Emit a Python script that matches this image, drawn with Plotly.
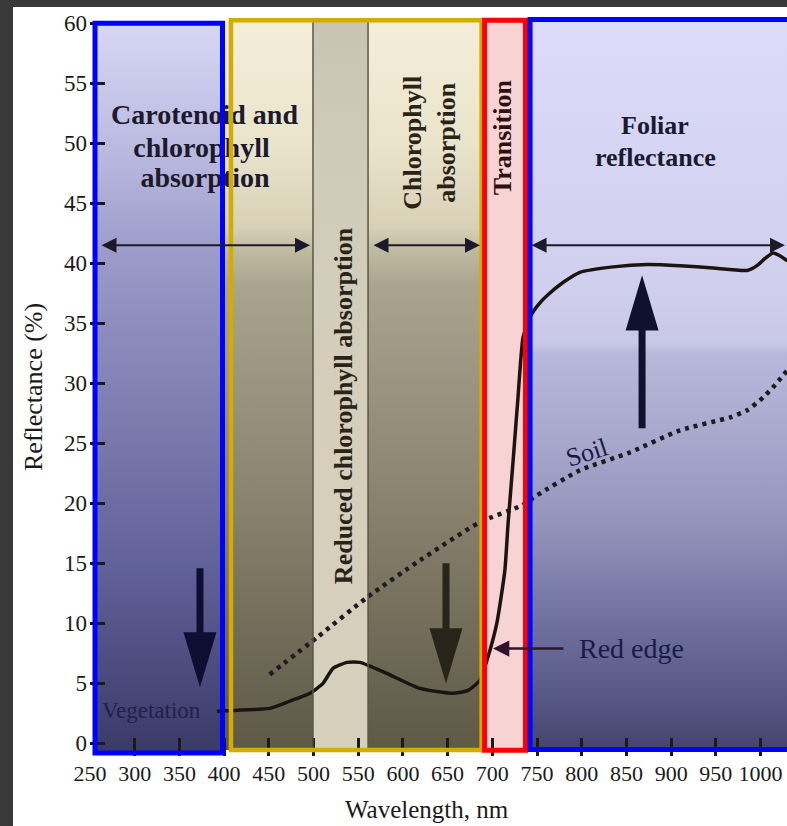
import plotly.graph_objects as go

# ---------------------------------------------------------------
# Spectral reflectance curves (wavelength in nm, reflectance in %)
# ---------------------------------------------------------------
veg_wavelength = [392, 412, 451, 470, 496, 510.6, 521.8, 537.5, 552, 582, 619, 656,
                  673, 686, 694, 705, 714, 717.6, 723, 728.7, 734.3, 742, 752, 761,
                  779, 798, 835, 873, 910, 947, 985, 996, 1005, 1014, 1022, 1030]
veg_reflectance = [2.67, 2.75, 2.92, 3.42, 4.17, 5.0, 6.25, 6.75, 6.75, 5.83, 4.58, 4.17,
                   4.42, 5.25, 6.92, 10.0, 14.4, 18.3, 23.3, 28.8, 33.8, 35.5, 36.6, 37.3,
                   38.4, 39.25, 39.7, 39.9, 39.8, 39.6, 39.4, 39.8, 40.4, 40.85, 40.6, 40.2]

soil_wavelength = [451, 504, 560, 619, 686, 733, 750, 798, 854, 910, 966, 985, 1003, 1014, 1030]
soil_reflectance = [5.75, 8.83, 12.17, 15.25, 18.42, 19.83, 20.67, 22.75, 24.25, 26.08,
                    27.17, 27.75, 28.83, 29.67, 31.08]

# Axis ticks
x_ticks = [250, 300, 350, 400, 450, 500, 550, 600, 650, 700, 750, 800, 850, 900, 950, 1000]
y_ticks = [0, 5, 10, 15, 20, 25, 30, 35, 40, 45, 50, 55, 60]

# Spectral zones: [x0, x1, y0, y1]
zone_blue_uv = [255.6, 398.2, -0.79, 60.0]
zone_visible = [407.7, 688.0, -0.54, 60.25]
zone_band = [499.4, 561.0, -0.54, 60.25]
zone_transition = [691.3, 737.1, -0.58, 60.25]
zone_nir = [742.2, 1065, -0.5, 60.3]

# Range arrows spanning each zone at the same reflectance level
span_level = 41.5
span_starts = [261.2, 565.4, 742.2]
span_ends = [496.1, 686.2, 1027.4]

# Block arrows: centre wavelength, tail and tip reflectance
block_x = [373.0, 648.2, 867.5]
block_tail = [14.6, 15.0, 26.25]
block_tip = [4.67, 5.0, 39.0]
block_colors = ["#0e0e32", "#28241a", "#10102f"]

# Red-edge pointer: from label side to the curve
red_edge_from = [781.3, 7.9]
red_edge_to = [700.8, 7.9]

SERIF = "Liberation Serif"

X_RANGE = [250, 1029.6]
Y_RANGE = [-1.05, 60.6]
PX_PER_NM = 0.894


def gradient(stops, y0, y1):
    """Turn (reflectance, colour) stops into a 0..1 colorscale."""
    return [[(r - y0) / (y1 - y0), c] for r, c in stops]


def rect_trace(zone, stops=None, color=None):
    x0, x1, y0, y1 = zone
    kw = dict(x=[x0, x1, x1, x0, x0], y=[y0, y0, y1, y1, y0], fill="toself",
              mode="lines", line=dict(width=0), hoverinfo="skip", showlegend=False)
    if stops is not None:
        kw["fillgradient"] = dict(type="vertical", colorscale=gradient(stops, y0, y1),
                                  start=y0, stop=y1)
    else:
        kw["fillcolor"] = color
    return go.Scatter(**kw)


fig = go.Figure()

# Zone backgrounds
fig.add_trace(rect_trace(
    zone_blue_uv,
    stops=[(-0.79, "#3a3a68"), (5, "#48487a"), (15, "#62629a"), (30, "#8282b4"),
           (41, "#9c9cca"), (50, "#bcbce2"), (60.0, "#d6d6f4")]))
fig.add_trace(rect_trace(
    [zone_blue_uv[1], zone_transition[0], zone_visible[2], zone_visible[3]],
    stops=[(-0.54, "#5e5846"), (10, "#736d5a"), (20, "#88826e"), (30, "#9a9480"),
           (38, "#aaa48e"), (41, "#c0b9a2"), (43, "#d8d1b8"), (50, "#ebe4cc"),
           (60.25, "#f4eed9")]))
fig.add_trace(rect_trace(
    zone_band,
    stops=[(-0.54, "#d6d0bd"), (30, "#d4cebb"), (50, "#d0cab9"), (60.25, "#c9c3b4")]))
fig.add_trace(rect_trace(zone_transition, color="#f8d3d3"))
fig.add_trace(rect_trace(
    [zone_transition[1], zone_nir[1], zone_nir[2], zone_nir[3]],
    stops=[(-0.5, "#44446e"), (5, "#5c5c8a"), (12, "#7878a6"), (18.5, "#9494bc"),
           (24.5, "#a6a6cc"), (32.5, "#b8b8dc"), (33.3, "#c8c8e6"), (38, "#d0d0ee"),
           (50, "#d6d6f4"), (60.3, "#dcdcf8")]))

# Block arrows
sw = 3.5 / PX_PER_NM
hw = 16.5 / PX_PER_NM
head_len = 4.6
for xc, yt, yp, col in zip(block_x, block_tail, block_tip, block_colors):
    d = 1 if yp > yt else -1
    yb = yp - d * head_len
    fig.add_trace(go.Scatter(
        x=[xc - sw, xc - sw, xc - hw, xc, xc + hw, xc + sw, xc + sw, xc - sw],
        y=[yt, yb, yb, yp, yb, yb, yt, yt],
        fill="toself", fillcolor=col, mode="lines", line=dict(width=0, color=col),
        hoverinfo="skip", showlegend=False))

# Soil curve (dotted) and vegetation curve
fig.add_trace(go.Scatter(
    x=soil_wavelength, y=soil_reflectance, mode="lines",
    line=dict(color="#1e1a22", width=4.5, dash="4px,5px", shape="spline", smoothing=0.6),
    hoverinfo="skip", showlegend=False))
fig.add_trace(go.Scatter(
    x=veg_wavelength, y=veg_reflectance, mode="lines",
    line=dict(color="#1c1410", width=3.5, shape="spline", smoothing=0.5),
    hoverinfo="skip", showlegend=False))

# Zone heading drawn beneath the box outlines
fig.add_trace(go.Scatter(
    x=[378.1, 374.7, 378.6], y=[52.17, 49.4, 46.9],
    text=["Carotenoid and", "chlorophyll", "absorption"],
    mode="text", textposition="middle center",
    textfont=dict(family=SERIF, size=28, color="#1c1a2c", weight="bold"),
    hoverinfo="skip", showlegend=False))

shapes = []
# Page frame: white sheet over dark surround
shapes.append(dict(type="rect", xref="paper", yref="paper", x0=-0.1105, x1=1.02,
                   y0=-0.11, y1=1.0122, fillcolor="white", line=dict(width=0),
                   layer="below"))
# Band edges
for xb in zone_band[:2]:
    shapes.append(dict(type="line", xref="x", yref="y", x0=xb, x1=xb,
                       y0=zone_band[2], y1=zone_band[3],
                       line=dict(color="#5c5646", width=1.5), layer="above"))
# Zone outlines
for zone, col, w in [(zone_blue_uv, "#0000ff", 5), (zone_visible, "#d2ad00", 4.5),
                     (zone_transition, "#ff0000", 5), (zone_nir, "#0000ff", 5)]:
    shapes.append(dict(type="rect", xref="x", yref="y", x0=zone[0], x1=zone[1],
                       y0=zone[2], y1=zone[3], line=dict(color=col, width=w),
                       fillcolor="rgba(0,0,0,0)", layer="above"))

annotations = []
# Double-headed range arrows
for xs, xe in zip(span_starts, span_ends):
    annotations.append(dict(
        x=xe, y=span_level, ax=xs, ay=span_level, xref="x", yref="y",
        axref="x", ayref="y", text="", showarrow=True, arrowside="end+start",
        arrowhead=2, startarrowhead=2, arrowsize=1.5, startarrowsize=1.5,
        arrowwidth=2, arrowcolor="#1c1a2a"))
# Red-edge pointer
annotations.append(dict(
    x=red_edge_to[0], y=red_edge_to[1], ax=red_edge_from[0], ay=red_edge_from[1],
    xref="x", yref="y", axref="x", ayref="y", text="", showarrow=True,
    arrowhead=2, arrowsize=1.3, arrowwidth=2.5, arrowcolor="#30142c"))

bold = dict(family=SERIF, size=26, weight="bold")
annotations += [
    dict(x=882, y=51.5, text="Foliar", font=dict(**bold, color="#1a1a30")),
    dict(x=882, y=48.83, text="reflectance", font=dict(**bold, color="#1a1a30")),
    dict(x=533, y=28.1, text="Reduced chlorophyll absorption", textangle=-90,
         font=dict(**bold, color="#2a2418")),
    dict(x=629.8, y=50.0, text="Chlorophyll<br>absorption", textangle=-90,
         font=dict(**bold, color="#2a2418")),
    dict(x=710.8, y=50.5, text="Transition", textangle=-90,
         font=dict(**bold, color="#2c1012")),
    dict(x=806, y=24.2, text="Soil", textangle=-18,
         font=dict(family=SERIF, size=26, color="#1a1a40")),
    dict(x=318.8, y=2.75, text="Vegetation",
         font=dict(family=SERIF, size=23, color="#20204a")),
    dict(x=794.7, y=7.9, text="Red edge", xanchor="left",
         font=dict(family=SERIF, size=28, color="#1a1a48")),
]
for a in annotations:
    a.setdefault("xref", "x")
    a.setdefault("yref", "y")
    a.setdefault("showarrow", False)

# Axis titles
annotations += [
    dict(xref="paper", yref="paper", x=(33 - 90) / 697, y=(756 - 387) / 740,
         xanchor="center", yanchor="middle",
         text="Reflectance (%)", textangle=-90, showarrow=False,
         font=dict(family=SERIF, size=26, color="#1a1a1a")),
    dict(xref="paper", yref="paper", x=(427 - 90) / 697, y=(756 - 810) / 740,
         xanchor="center", yanchor="middle",
         text="Wavelength, nm", showarrow=False,
         font=dict(family=SERIF, size=25, color="#1a1a1a")),
]

fig.update_layout(
    width=787, height=826, autosize=False,
    margin=dict(l=90, r=0, t=16, b=70),
    paper_bgcolor="#393939", plot_bgcolor="white",
    showlegend=False, hovermode=False,
    shapes=shapes, annotations=annotations,
    xaxis=dict(range=X_RANGE, tickvals=x_ticks, ticks="inside", ticklen=18,
               tickwidth=2.5, tickcolor="#1a1a1a", showgrid=False, zeroline=False,
               showline=False, ticklabelstandoff=2,
               tickfont=dict(family=SERIF, size=22, color="#1a1a1a")),
    yaxis=dict(range=Y_RANGE, tickvals=y_ticks, ticks="inside", ticklen=15,
               tickwidth=2.5, tickcolor="#1a1a1a", showgrid=False, zeroline=False,
               showline=False, ticklabelstandoff=2,
               tickfont=dict(family=SERIF, size=23, color="#1a1a1a")),
)

fig.write_html("out.html")
